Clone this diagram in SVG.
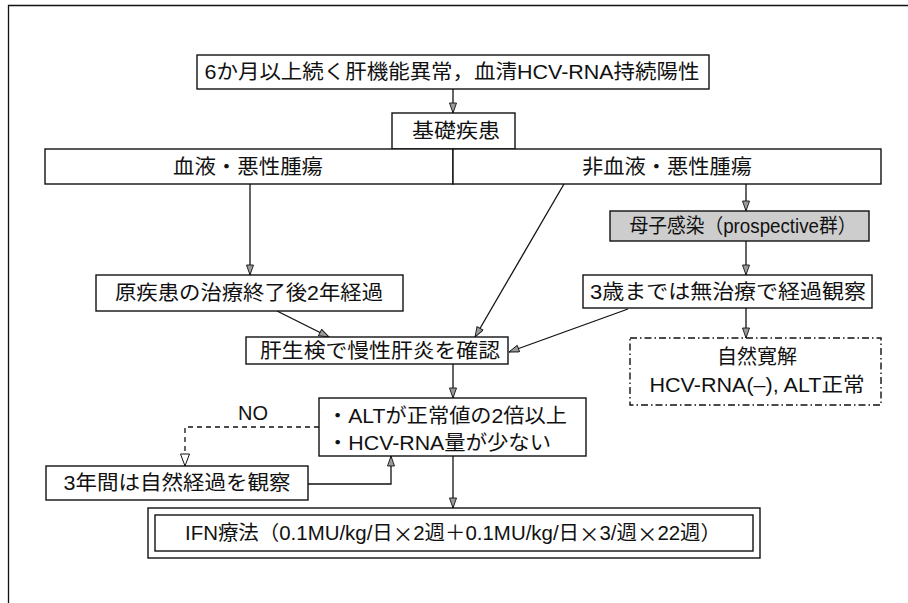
<svg xmlns="http://www.w3.org/2000/svg" width="908" height="603" viewBox="0 0 908 603">
<style>
.box{fill:#fff;stroke:#111;stroke-width:1.4}
.gray{fill:#cdcdcd;stroke:#111;stroke-width:1.4}
.dd{fill:#fff;stroke:#111;stroke-width:1.4;stroke-dasharray:7 3 1.5 3}
.ln{fill:none;stroke:#111;stroke-width:1.3}
.dash{fill:none;stroke:#111;stroke-width:1.3;stroke-dasharray:5 4}
text{font-family:"Liberation Sans","Noto Sans CJK JP",sans-serif;font-size:20px;fill:#111;dominant-baseline:central}
.c{text-anchor:middle}
.j{font-family:"Noto Sans CJK JP",sans-serif}
</style>
<defs>
<marker id="ah" markerUnits="userSpaceOnUse" markerWidth="12" markerHeight="10" refX="11" refY="4" orient="auto">
<path d="M1,0.5 L11,4 L1,7.5 z" fill="#9a9a9a" stroke="#111" stroke-width="0.9"/>
</marker>
<marker id="ao" markerUnits="userSpaceOnUse" markerWidth="14" markerHeight="12" refX="13" refY="5" orient="auto">
<path d="M1,0.5 L13,5 L1,9.5 z" fill="#fff" stroke="#111" stroke-width="1"/>
</marker>
</defs>
<g id="frame">
<path class="ln" d="M8.5,603 V5.5 H908"/>
</g>
<g id="connectors">
<path class="ln" d="M453,89 V113" marker-end="url(#ah)"/>
<path class="ln" d="M250,184 V275" marker-end="url(#ah)"/>
<path class="ln" d="M277,311 L329,337" marker-end="url(#ah)"/>
<path class="ln" d="M564,184 L475,337" marker-end="url(#ah)"/>
<path class="ln" d="M746,184 V211" marker-end="url(#ah)"/>
<path class="ln" d="M746,241 V275" marker-end="url(#ah)"/>
<path class="ln" d="M628,309 L509,352" marker-end="url(#ah)"/>
<path class="ln" d="M746,308 V338" marker-end="url(#ah)"/>
<path class="ln" d="M453,364 V398" marker-end="url(#ah)"/>
<path class="dash" d="M319,427 H185 V466" marker-end="url(#ao)"/>
<path class="ln" d="M308,484 H391 V456" marker-end="url(#ah)"/>
<path class="ln" d="M453,456 V508" marker-end="url(#ah)"/>
<text x="253" y="413" class="c">NO</text>
</g>
<g id="n_top">
<rect class="box" x="197" y="55" width="512" height="34"/>
<text x="452" y="72" class="c" textLength="495" lengthAdjust="spacingAndGlyphs">6か月以上続く肝機能異常，血清HCV-RNA持続陽性</text>
</g>
<g id="n_kiso">
<rect class="box" x="392" y="113" width="123" height="36"/>
<text x="456" y="131" class="c" textLength="88" lengthAdjust="spacingAndGlyphs">基礎疾患</text>
</g>
<g id="n_ketsueki">
<rect class="box" x="45" y="149" width="408" height="35"/>
<text x="248" y="166.5" class="c" textLength="150" lengthAdjust="spacingAndGlyphs">血液・悪性腫瘍</text>
</g>
<g id="n_hiketsueki">
<rect class="box" x="453" y="149" width="428" height="35"/>
<text x="667" y="166.5" class="c" textLength="170" lengthAdjust="spacingAndGlyphs">非血液・悪性腫瘍</text>
</g>
<g id="n_genshikkan">
<rect class="box" x="96" y="275" width="307" height="36"/>
<text x="249" y="293" class="c" textLength="268" lengthAdjust="spacingAndGlyphs">原疾患の治療終了後2年経過</text>
</g>
<g id="n_boshi">
<rect class="gray" x="610" y="211" width="259" height="30"/>
<text x="743" y="226" class="c" textLength="227" lengthAdjust="spacingAndGlyphs">母子感染（prospective群）</text>
</g>
<g id="n_3sai">
<rect class="box" x="583" y="275" width="289" height="33"/>
<text x="728" y="292" class="c" textLength="276" lengthAdjust="spacingAndGlyphs">3歳までは無治療で経過観察</text>
</g>
<g id="n_shizen">
<rect class="dd" x="630" y="338" width="251" height="67"/>
<text x="757" y="357" class="c" textLength="80" lengthAdjust="spacingAndGlyphs">自然寛解</text>
<text x="757" y="385" class="c" textLength="215" lengthAdjust="spacingAndGlyphs">HCV-RNA(–), ALT正常</text>
</g>
<g id="n_kanseiken">
<rect class="box" x="246" y="337" width="262" height="27"/>
<text x="380" y="351" class="c" textLength="240" lengthAdjust="spacingAndGlyphs">肝生検で慢性肝炎を確認</text>
</g>
<g id="n_alt">
<rect class="box" x="319" y="398" width="267" height="58"/>
<text x="327" y="416" textLength="240" lengthAdjust="spacingAndGlyphs">・ALTが正常値の2倍以上</text>
<text x="327" y="443" textLength="224" lengthAdjust="spacingAndGlyphs">・HCV-RNA量が少ない</text>
</g>
<g id="n_3nen">
<rect class="box" x="46" y="466" width="262" height="34"/>
<text x="177" y="483" class="c" textLength="227" lengthAdjust="spacingAndGlyphs">3年間は自然経過を観察</text>
</g>
<g id="n_ifn">
<rect class="box" x="148" y="508" width="612" height="50"/>
<rect class="box" x="155" y="515" width="598" height="36"/>
<text x="453" y="533" class="c" textLength="536" lengthAdjust="spacingAndGlyphs">IFN療法（0.1MU/kg/日<tspan class="j">×</tspan>2週＋0.1MU/kg/日<tspan class="j">×</tspan>3/週<tspan class="j">×</tspan>22週）</text>
</g>
</svg>
